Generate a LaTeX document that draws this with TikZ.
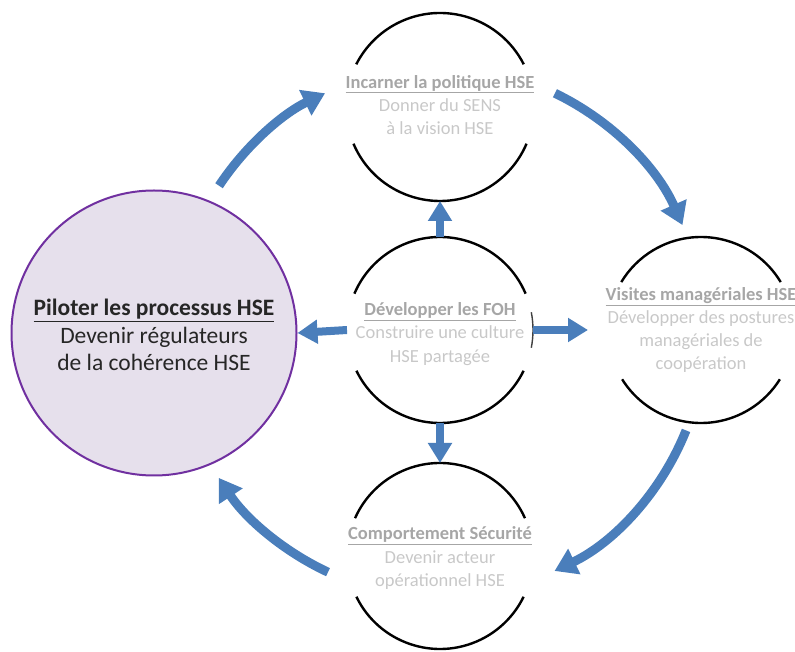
\documentclass[tikz,border=0pt]{standalone}
\usepackage{fontspec}
\setmainfont{Carlito}
\usetikzlibrary{arrows.meta}
\definecolor{arrowblue}{HTML}{4A7EBB}
\definecolor{softgray}{HTML}{C8C8C8}
\definecolor{titlegray}{HTML}{A6A6A6}
\definecolor{lilac}{HTML}{E6E0EC}
\definecolor{ringpurple}{HTML}{7030A0}
\definecolor{darktext}{HTML}{262626}
\newcommand{\ttl}[1]{{\color{titlegray}\bfseries\underline{#1}}}
\begin{document}
\begin{tikzpicture}[x=1pt,y=1pt,
  ring/.style={circle,draw=none,inner sep=0pt,outer sep=0pt,minimum size=#1},
  ring/.default=186pt,
  arcline/.style={line width=2.4pt,black},
  graytxt/.style={align=center,text=softgray,inner sep=0pt,font=\fontsize{18.5}{23.2}\selectfont},
  flow/.style={line width=8pt,arrowblue,-{Triangle[width=23pt,length=20pt]}},
  cyclearrow/.style={line width=9pt,arrowblue,-{Triangle[width=27pt,length=22pt]}}]
\useasboundingbox (0,0) rectangle (795,651);
% circles (y measured upward)
\node[ring=188pt] (T) at (440,544) {};
\node[ring] (M) at (440,321) {};
\node[ring] (R) at (701,321) {};
\node[ring] (B) at (440,95) {};
\node[circle,draw=ringpurple,line width=2pt,fill=lilac,minimum size=285pt,inner sep=0pt] (L) at (154,318) {};
\coordinate (O) at (440,319);
% open rings
\draw[arcline] (T.27) arc[start angle=27,end angle=153,radius=94pt];
\draw[arcline] (T.203) arc[start angle=203,end angle=337,radius=94pt];
\draw[arcline] (M.23) arc[start angle=23,end angle=157,radius=93pt];
\draw[arcline] (M.206) arc[start angle=206,end angle=334,radius=93pt];
\draw[line width=1.4pt,black!75] (M.-11) arc[start angle=-11,end angle=11,radius=93pt];
\draw[arcline] (R.31) arc[start angle=31,end angle=149,radius=93pt];
\draw[arcline] (R.212) arc[start angle=212,end angle=328,radius=93pt];
\draw[arcline] (B.24) arc[start angle=24,end angle=156,radius=93pt];
\draw[arcline] (B.206) arc[start angle=206,end angle=334,radius=93pt];
% texts
\node[graytxt] (Ttxt) at (440,546) {\ttl{Incarner la politique HSE}\\Donner du SENS\\à la vision HSE};
\node[graytxt] (Mtxt) at (440,317) {\ttl{Développer les FOH}\\Construire une culture\\HSE partagée};
\node[graytxt] (Rtxt) at (701,321) {\ttl{Visites managériales HSE}\\Développer des postures\\managériales de\\coopération};
\node[graytxt] (Btxt) at (440,93) {\ttl{Comportement Sécurité}\\Devenir acteur\\opérationnel HSE};
\node[align=center,text=darktext,inner sep=0pt,font=\fontsize{23.5}{27.5}\selectfont] (Ltxt) at (154,316)
  {{\bfseries\underline{Piloter les processus HSE}}\\Devenir régulateurs\\de la cohérence HSE};
% straight arrows from the centre ring
\draw[flow] (M.north) -- (T.south);
\draw[flow] (M.south) -- (B.north);
\draw[flow] (M.west) -- (L.east);
\draw[flow,shorten >=20pt] (M.east) -- (R.west);
% cycle arrows
\draw[cyclearrow] ([shift={(146.5:265)}]O) arc[start angle=146.5,end angle=115.7,radius=265pt];
\draw[cyclearrow] ([shift={(64.3:265)}]O) arc[start angle=64.3,end angle=23.8,radius=265pt];
\draw[cyclearrow] ([shift={(-21.8:265)}]O) arc[start angle=-21.8,end angle=-64.4,radius=265pt];
\draw[cyclearrow] ([shift={(-115:265)}]O) arc[start angle=-115,end angle=-146.6,radius=265pt];
\end{tikzpicture}
\end{document}
